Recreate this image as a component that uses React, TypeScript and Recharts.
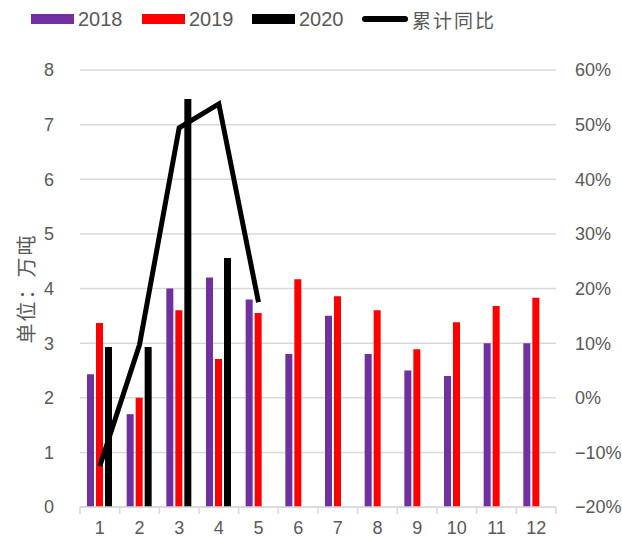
import React from "react";
import {
  ComposedChart,
  Bar,
  Line,
  XAxis,
  YAxis,
  CartesianGrid,
} from "recharts";

const months = ["1", "2", "3", "4", "5", "6", "7", "8", "9", "10", "11", "12"];
const y2018 = [2.43, 1.7, 4.0, 4.2, 3.8, 2.8, 3.5, 2.8, 2.5, 2.4, 3.0, 3.0];
const y2019 = [3.37, 2.0, 3.6, 2.71, 3.55, 4.17, 3.86, 3.6, 2.89, 3.38, 3.68, 3.83];
const y2020 = [2.93, 2.93, 7.47, 4.56, null, null, null, null, null, null, null, null];
const cumYoY = [-12.5, 9.7, 49.4, 53.8, 17.5, null, null, null, null, null, null, null];
const leftTicks = [0, 1, 2, 3, 4, 5, 6, 7, 8];
const rightTicks = [-20, -10, 0, 10, 20, 30, 40, 50, 60];

const data = months.map((m, i) => ({
  month: m,
  a: y2018[i],
  b: y2019[i],
  c: y2020[i],
  yoy: cumYoY[i],
}));

const W = 622;
const H = 539;
const LEFT = 80;
const RIGHT_W = 66;
const TOP = 70;
const XAXIS_H = 32;
const band = (W - LEFT - RIGHT_W) / months.length;

const PURPLE = "#7030A0";
const RED = "#FF0000";
const BLACK = "#000000";
const TXT = "#595959";
const GRID = "#d9d9d9";
const FONT = "'Liberation Sans', Arial, sans-serif";
const CJK = "'Noto Sans CJK SC', sans-serif";

function MonthTick(props: any) {
  const { x, y, payload, index } = props;
  return (
    <g>
      <line x1={x - band / 2} x2={x - band / 2} y1={y} y2={y + 7} stroke={GRID} strokeWidth={1.5} />
      {index === months.length - 1 && (
        <line x1={x + band / 2} x2={x + band / 2} y1={y} y2={y + 7} stroke={GRID} strokeWidth={1.5} />
      )}
      <text x={x} y={y + 27} textAnchor="middle" fill={TXT} fontSize={18} fontFamily={FONT}>
        {payload.value}
      </text>
    </g>
  );
}

const legendItems = [
  { label: "2018", color: PURPLE, left: 31, kind: "bar", cjk: false },
  { label: "2019", color: RED, left: 142, kind: "bar", cjk: false },
  { label: "2020", color: BLACK, left: 252, kind: "bar", cjk: false },
  { label: "累计同比", color: BLACK, left: 362, kind: "line", cjk: true },
];

function LegendRow() {
  return (
    <>
      {legendItems.map((it) => (
        <div
          key={it.label}
          style={{
            position: "absolute",
            left: it.left,
            top: 6,
            height: 26,
            display: "flex",
            alignItems: "center",
            gap: 4,
          }}
        >
          <span
            style={{
              display: "inline-block",
              width: it.kind === "bar" ? 43 : 46,
              height: it.kind === "bar" ? 10 : 6,
              background: it.color,
              borderRadius: it.kind === "bar" ? 0 : 3,
            }}
          />
          <span
            style={{
              fontSize: it.cjk ? 19 : 20,
              color: TXT,
              fontFamily: it.cjk ? CJK : FONT,
              letterSpacing: it.cjk ? 2 : 0,
            }}
          >
            {it.label}
          </span>
        </div>
      ))}
    </>
  );
}

export default function App() {
  return (
    <div style={{ position: "absolute", left: 0, top: 0, width: W, height: H, background: "#fff" }}>
      <LegendRow />
      <ComposedChart
        width={W}
        height={H}
        data={data}
        margin={{ top: TOP, right: 0, left: 0, bottom: 0 }}
        barSize={7}
        barGap={2}
      >
        <CartesianGrid vertical={false} stroke={GRID} strokeWidth={1.5} yAxisId="left" />
        <XAxis
          dataKey="month"
          height={XAXIS_H}
          axisLine={{ stroke: GRID, strokeWidth: 1.5 }}
          tickLine={false}
          tickSize={0}
          tickMargin={0}
          tick={<MonthTick />}
          interval={0}
        />
        <YAxis
          yAxisId="left"
          domain={[0, 8]}
          ticks={leftTicks}
          width={LEFT}
          axisLine={false}
          tickLine={false}
          tickMargin={20}
          tick={{ fill: TXT, fontSize: 18, fontFamily: FONT }}
          label={{
            value: "单位：万吨",
            angle: -90,
            position: "insideLeft",
            offset: 27,
            style: { fill: TXT, fontSize: 20, fontFamily: CJK, textAnchor: "middle", letterSpacing: 2 },
          }}
        />
        <YAxis
          yAxisId="right"
          orientation="right"
          domain={[-20, 60]}
          ticks={rightTicks}
          width={RIGHT_W}
          axisLine={false}
          tickLine={false}
          tickMargin={13}
          tick={{ fill: TXT, fontSize: 18, fontFamily: FONT }}
          tickFormatter={(v: number) => (v < 0 ? `\u2212${-v}%` : `${v}%`)}
        />
        <Bar yAxisId="left" dataKey="a" fill={PURPLE} isAnimationActive={false} />
        <Bar yAxisId="left" dataKey="b" fill={RED} isAnimationActive={false} />
        <Bar yAxisId="left" dataKey="c" fill={BLACK} isAnimationActive={false} />
        <Line
          yAxisId="right"
          dataKey="yoy"
          type="linear"
          stroke={BLACK}
          strokeWidth={5}
          dot={false}
          isAnimationActive={false}
        />
      </ComposedChart>
    </div>
  );
}
